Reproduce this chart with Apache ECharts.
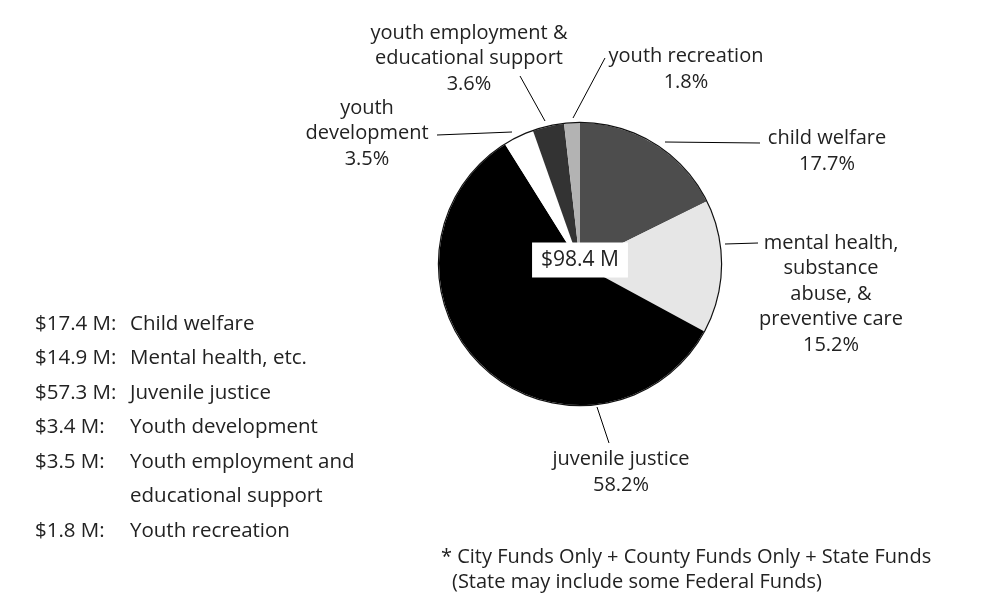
<!DOCTYPE html>
<html>
<head>
<meta charset="utf-8">
<script src="https://cdn.jsdelivr.net/npm/echarts@6/dist/echarts.min.js"></script>
<style>
html,body{margin:0;padding:0;background:#fff;}
#chart{width:1003px;height:593px;}
</style>
</head>
<body>
<div id="chart"></div>
<script>
// ---- data ----
const CATEGORIES = ['child welfare', 'mental health,\nsubstance\nabuse, &\npreventive care', 'juvenile justice', 'youth\ndevelopment', 'youth employment &\neducational support', 'youth recreation'];
const PERCENTS = [17.7, 15.2, 58.2, 3.5, 3.6, 1.8];
const AMOUNTS = [17.4, 14.9, 57.3, 3.4, 3.5, 1.8];
const LEGEND_NAMES = ['Child welfare', 'Mental health, etc.', 'Juvenile justice', 'Youth development', 'Youth employment and\neducational support', 'Youth recreation'];
const TOTAL = 98.4;
const FOOTNOTE = ['* City Funds Only + County Funds Only + State Funds', '(State may include some Federal Funds)'];

// ---- styles / layout ----
const COLORS = ['#4d4d4d', '#e6e6e6', '#000000', '#ffffff', '#333333', '#b3b3b3'];
const FONT = '"Open Sans", "DejaVu Sans", sans-serif';
const TXT = '#222';
const CX = 580, CY = 264, R = 141;
// label anchor (block centre) and leader line for each slice
const LABEL_LAYOUT = [
  {x: 827, y: 151.5, line: [[665, 142], [760, 143]]},
  {x: 831, y: 294, line: [[725, 244], [758, 243]]},
  {x: 621, y: 472.5, line: [[597, 407], [609, 443]]},
  {x: 367, y: 133.5, line: [[512, 132], [437, 135]]},
  {x: 469, y: 58.5, line: [[545, 121], [520, 76]]},
  {x: 686, y: 69.5, line: [[573, 118], [605, 58]]}
];

const chart = echarts.init(document.getElementById('chart'), null, {renderer: 'canvas'});

const pieData = CATEGORIES.map((c, i) => ({
  name: c,
  value: PERCENTS[i],
  itemStyle: {color: COLORS[i]}
}));

// legend-like amount list
const legendGraphics = [];
let row = 0;
const LX1 = 35, LX2 = 130, LY0 = 324, LDY = 34.5;
const LFONT = '20.5px ' + FONT;
AMOUNTS.forEach((a, i) => {
  const parts = LEGEND_NAMES[i].split('\n');
  parts.forEach((p, k) => {
    const y = LY0 + row * LDY;
    if (k === 0) {
      legendGraphics.push({type: 'text', x: LX1, y: y, style: {text: '$' + a.toFixed(1) + ' M:', font: LFONT, fill: TXT, verticalAlign: 'middle'}});
    }
    legendGraphics.push({type: 'text', x: LX2, y: y, style: {text: p, font: LFONT, fill: TXT, verticalAlign: 'middle'}});
    row++;
  });
});

const option = {
  backgroundColor: '#fff',
  animation: false,
  series: [
    {
      type: 'pie',
      center: [CX, CY],
      radius: R,
      startAngle: 90,
      clockwise: true,
      avoidLabelOverlap: false,
      silent: true,
      itemStyle: {borderWidth: 0},
      label: {
        show: true,
        position: 'outside',
        formatter: p => p.name + '\n' + p.value.toFixed(1) + '%',
        fontFamily: FONT,
        fontSize: 20,
        lineHeight: 25.5,
        color: TXT,
        align: 'center'
      },
      labelLine: {show: true, smooth: false, lineStyle: {color: '#000', width: 1}},
      labelLayout: function (params) {
        const L = LABEL_LAYOUT[params.dataIndex];
        return {x: L.x, y: L.y, align: 'center', verticalAlign: 'middle', labelLinePoints: L.line.concat([L.line[1]])};
      },
      emphasis: {disabled: true},
      data: pieData
    },
    {
      type: 'pie',
      center: [CX, CY],
      radius: [R, R + 1.2],
      silent: true,
      label: {show: false},
      labelLine: {show: false},
      itemStyle: {color: '#111', borderWidth: 0},
      emphasis: {disabled: true},
      data: [{value: 1, name: 'outline'}]
    }
  ],
  graphic: [
    {
      type: 'text', x: CX, y: CY - 4, z: 100,
      style: {
        text: '$' + TOTAL.toFixed(1) + ' M', font: '21px ' + FONT, fill: TXT,
        align: 'center', verticalAlign: 'middle',
        backgroundColor: '#fff', padding: [7, 9, 7, 9]
      }
    },
    {type: 'text', x: 441, y: 557, style: {text: FOOTNOTE[0], font: '20px ' + FONT, fill: TXT, verticalAlign: 'middle'}},
    {type: 'text', x: 452, y: 582, style: {text: FOOTNOTE[1], font: '20px ' + FONT, fill: TXT, verticalAlign: 'middle'}}
  ].concat(legendGraphics)
};
chart.setOption(option);
</script>
</body>
</html>
